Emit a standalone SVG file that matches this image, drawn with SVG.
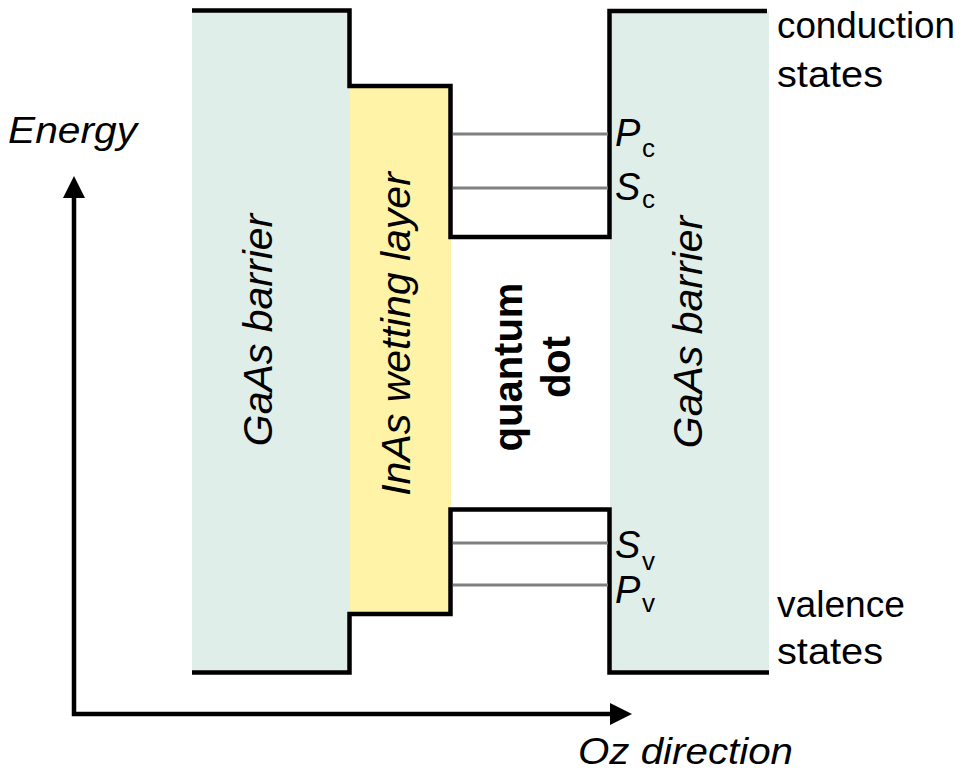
<svg xmlns="http://www.w3.org/2000/svg" width="975" height="774" viewBox="0 0 975 774">
<style>
.band{fill:none;stroke:#000;stroke-width:4.5;stroke-linejoin:miter}
.lvl{stroke:#808080;stroke-width:3}
.ax{stroke:#000;stroke-width:4.5;fill:none}
.t{font-family:"Liberation Sans",Arial,sans-serif;fill:#000}
.it{font-style:italic}
.b{font-weight:bold}
</style>
<rect width="975" height="774" fill="#fff"/>
<g id="left-barrier">
<rect x="192" y="10" width="158" height="663" fill="#E0EEE9"/>
<text class="t it" font-size="41" transform="translate(272,330) rotate(-90)" text-anchor="middle">GaAs barrier</text>
</g>
<g id="wetting-layer">
<rect x="350" y="86" width="101" height="528" fill="#FFF3A8"/>
<text class="t it" font-size="41" transform="translate(410,334) rotate(-90)" text-anchor="middle">InAs wetting layer</text>
</g>
<g id="right-barrier">
<rect x="610" y="11" width="159" height="662" fill="#E0EEE9"/>
<text class="t it" font-size="41" transform="translate(702,332) rotate(-90)" text-anchor="middle">GaAs barrier</text>
</g>
<g id="quantum-dot">
<text class="t b" font-size="40" transform="translate(522,367) rotate(-90)" text-anchor="middle">quantum</text>
<text class="t b" font-size="40" transform="translate(570,367) rotate(-90)" text-anchor="middle">dot</text>
</g>
<g id="connectors">
<polyline class="band" points="192,10.5 349.5,10.5 349.5,86 450.5,86 450.5,237 609.5,237 609.5,11 767,11"/>
<polyline class="band" points="192,672.5 349.5,672.5 349.5,614 450.5,614 450.5,509.5 609.5,509.5 609.5,672.5 769,672.5"/>
<line class="lvl" x1="453" y1="134" x2="608" y2="134"/>
<line class="lvl" x1="453" y1="188" x2="608" y2="188"/>
<line class="lvl" x1="453" y1="543" x2="608" y2="543"/>
<line class="lvl" x1="453" y1="585" x2="608" y2="585"/>
<polyline class="ax" points="74,196 74,714 612,714"/>
<polygon points="74,176 63,198 85,198" fill="#000"/>
<polygon points="632,714 610,703 610,725" fill="#000"/>
</g>
<g id="labels">
<text class="t it" font-size="37" x="8" y="143" textLength="129" lengthAdjust="spacingAndGlyphs">Energy</text>
<text class="t it" font-size="36" x="578" y="764" textLength="215" lengthAdjust="spacingAndGlyphs">Oz direction</text>
<text class="t" font-size="37" x="777" y="38" textLength="178" lengthAdjust="spacingAndGlyphs">conduction</text>
<text class="t" font-size="37" x="777" y="87" textLength="106" lengthAdjust="spacingAndGlyphs">states</text>
<text class="t" font-size="37" x="777" y="617" textLength="128" lengthAdjust="spacingAndGlyphs">valence</text>
<text class="t" font-size="37" x="777" y="664" textLength="106" lengthAdjust="spacingAndGlyphs">states</text>
<text class="t it" font-size="38" x="615" y="146">P<tspan font-style="normal" font-size="26" x="642" y="157">c</tspan></text>
<text class="t it" font-size="38" x="615" y="200">S<tspan font-style="normal" font-size="26" x="642" y="208">c</tspan></text>
<text class="t it" font-size="38" x="615" y="558">S<tspan font-style="normal" font-size="26" x="642" y="570">v</tspan></text>
<text class="t it" font-size="38" x="615" y="603">P<tspan font-style="normal" font-size="26" x="642" y="612">v</tspan></text>
</g>
</svg>
